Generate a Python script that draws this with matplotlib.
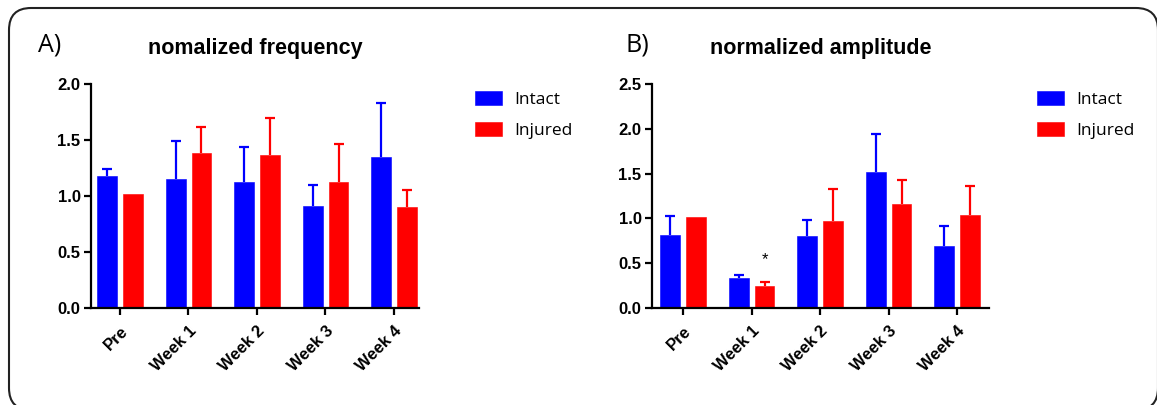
import numpy as np
import matplotlib
matplotlib.use("Agg")
import matplotlib.pyplot as plt
from matplotlib.patches import FancyBboxPatch

# ---- data -------------------------------------------------------------
timepoints = ["Pre", "Week 1", "Week 2", "Week 3", "Week 4"]
groups = ["Intact", "Injured"]
colors = ["#0000FF", "#FF0000"]

freq_intact = [1.18, 1.15, 1.125, 0.91, 1.35]
freq_intact_err = [0.06, 0.34, 0.315, 0.19, 0.48]
freq_injured = [1.015, 1.385, 1.365, 1.125, 0.905]
freq_injured_err = [0.0, 0.235, 0.335, 0.335, 0.145]

amp_intact = [0.815, 0.33, 0.807, 1.514, 0.69]
amp_intact_err = [0.21, 0.038, 0.175, 0.425, 0.22]
amp_injured = [1.016, 0.25, 0.967, 1.16, 1.035]
amp_injured_err = [0.0, 0.037, 0.36, 0.27, 0.325]

freq_yticks = [0.0, 0.5, 1.0, 1.5, 2.0]
amp_yticks = [0.0, 0.5, 1.0, 1.5, 2.0, 2.5]

# ---- figure -----------------------------------------------------------
W, H, DPI = 1157, 405, 100
fig = plt.figure(figsize=(W / DPI, H / DPI), dpi=DPI)
fig.patch.set_facecolor("white")

tick_font = dict(family="Liberation Sans", weight="bold", size=12)


def panel(rect, means, errs, yticks, title, letter, letter_x, legend_x, xlim):
    ax = fig.add_axes(rect)
    x = np.arange(len(timepoints))
    offsets = [-0.185, 0.19]
    handles = []
    for m, e, off, c, g in zip(means, errs, offsets, colors, groups):
        b = ax.bar(x + off, m, width=0.29, color=c, edgecolor=c,
                   linewidth=0.4, label=g, zorder=2)
        handles.append(b)
        # upper-only error bars: hide the cap that sits on the bar top
        _, caps, _ = ax.errorbar(x + off, m, yerr=[np.zeros(len(e)), e],
                                 fmt="none", ecolor=c, elinewidth=1.6,
                                 capsize=3.3, capthick=1.6, zorder=1)
        caps[0].set_visible(False)
        upper = caps[1]
        keep = np.asarray(e) > 0
        upper.set_data(np.asarray(x + off)[keep],
                       (np.asarray(m) + np.asarray(e))[keep])
    ax.set_xlim(*xlim)
    ax.set_ylim(yticks[0], yticks[-1])
    ax.set_yticks(yticks)
    ax.set_yticklabels([f"{t:.1f}" for t in yticks], **tick_font)
    ax.set_xticks(x)
    ax.set_xticklabels(timepoints, rotation=45, ha="right",
                       rotation_mode="anchor", **tick_font)
    for s in ["top", "right"]:
        ax.spines[s].set_visible(False)
    for s in ["left", "bottom"]:
        ax.spines[s].set_linewidth(1.6)
    ax.tick_params(axis="both", direction="out", length=5, width=1.6,
                   pad=2.5, colors="black")
    ax.tick_params(axis="x", pad=6)
    ax.text(0.5, 1.16, title, transform=ax.transAxes, ha="center",
            va="center", family="Liberation Sans", weight="bold",
            size=15.5)
    fig.text(letter_x / W, 1 - 45 / H, letter, ha="left", va="center",
             family="Open Sans", size=18)
    fig.legend(handles=handles, labels=groups, loc="upper left",
               bbox_to_anchor=(legend_x / W, 1 - 91 / H), frameon=False,
               prop=dict(family="Open Sans", size=12.5), borderpad=0,
               handlelength=1.55, handleheight=0.85, handletextpad=0.7,
               labelspacing=0.8, borderaxespad=0)
    return ax


bottom = 1 - 308 / H
height = 224 / H
ax1 = panel([91 / W, bottom, 328 / W, height], [freq_intact, freq_injured],
            [freq_intact_err, freq_injured_err], freq_yticks,
            "nomalized frequency", "A)", 38, 475, (-0.423, 4.365))
ax2 = panel([652 / W, bottom, 337 / W, height], [amp_intact, amp_injured],
            [amp_intact_err, amp_injured_err], amp_yticks,
            "normalized amplitude", "B)", 626, 1037, (-0.453, 4.467))

# significance marker over the injured Week 1 bar
ax2.text(1 + 0.19, amp_injured[1] + amp_injured_err[1] + 0.17, "*",
         ha="center", va="bottom", family="Liberation Sans", size=12)

# rounded frame around both panels
frame = FancyBboxPatch((0.09, -0.05), 11.49, 4.02,
                       boxstyle="round,pad=0,rounding_size=0.22",
                       transform=fig.dpi_scale_trans, fill=False,
                       edgecolor="#222222", linewidth=1.5)
fig.patches.append(frame)

fig.savefig("out.png", dpi=DPI)
